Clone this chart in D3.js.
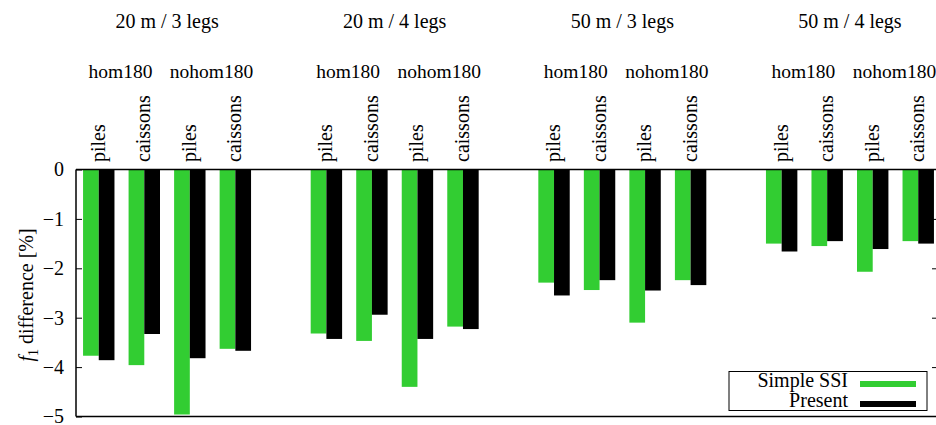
<!DOCTYPE html>
<html>
<head>
<meta charset="utf-8">
<script src="https://cdn.jsdelivr.net/npm/d3@7"></script>
<style>
  body { margin: 0; background: #fff; }
  svg text { font-family: "Liberation Serif", "DejaVu Serif", serif !important; fill: #000; }
</style>
</head>
<body>
<script>
// Chart data
const groups = ["20 m / 3 legs", "20 m / 4 legs", "50 m / 3 legs", "50 m / 4 legs"];
const variants = ["hom180", "nohom180"];
const foundations = ["piles", "caissons"];
const seriesNames = ["Simple SSI", "Present"];

// f1 difference [%], one row per group: hom180 piles, hom180 caissons, nohom180 piles, nohom180 caissons
const simpleSSI = [
  [-3.77, -3.96, -4.96, -3.63],
  [-3.32, -3.47, -4.40, -3.18],
  [-2.29, -2.44, -3.10, -2.24],
  [-1.50, -1.55, -2.07, -1.45]
];
const present = [
  [-3.86, -3.33, -3.82, -3.67],
  [-3.43, -2.94, -3.43, -3.23],
  [-2.55, -2.24, -2.45, -2.34],
  [-1.66, -1.45, -1.61, -1.50]
];
const yTicks = [0, -1, -2, -3, -4, -5];

// SVG area
const svgWidth = 936;
const svgHeight = 425;
const colors = ["#32cd32", "#000000"];
const serif = "Liberation Serif";

const svg = d3.select("body")
  .append("svg")
  .attr("width", svgWidth)
  .attr("height", svgHeight)
  .attr("font-family", serif);

// Slots: 4 bar pairs per group, one empty slot between groups
const slotsPerGroup = 5;
const nSlots = groups.length * slotsPerGroup - 1;
const x = d3.scaleLinear().domain([-0.5, nSlots - 0.5]).range([76, 941]);
const y = d3.scaleLinear().domain([0, -5]).range([169.5, 416.5]);
const barW = 0.345; // in slot units

// flatten data into bar records
const bars = [];
groups.forEach((g, gi) => {
  for (let k = 0; k < 4; k++) {
    const slot = gi * slotsPerGroup + k;
    bars.push({slot: slot, s: 0, v: simpleSSI[gi][k]});
    bars.push({slot: slot, s: 1, v: present[gi][k]});
  }
});

// Bars
svg.append("g").selectAll("rect")
  .data(bars)
  .enter()
  .append("rect")
  .attr("x", d => d.s === 0 ? x(d.slot - barW) : x(d.slot))
  .attr("y", y(0))
  .attr("width", x(barW) - x(0))
  .attr("height", d => y(d.v) - y(0))
  .attr("fill", d => colors[d.s]);

// Frame
const frame = svg.append("g").attr("fill", "none").attr("stroke", "#000");
frame.append("line").attr("x1", x(-0.5)).attr("x2", 941).attr("y1", y(0)).attr("y2", y(0)).attr("stroke-width", 1.5);
frame.append("line").attr("x1", x(-0.5)).attr("x2", 941).attr("y1", y(-5)).attr("y2", y(-5)).attr("stroke-width", 1.5);
frame.append("line").attr("x1", x(-0.5)).attr("x2", x(-0.5)).attr("y1", y(0)).attr("y2", y(-5)).attr("stroke-width", 1.5);

// Y axis (ticks pointing inward), mirrored on the right
const yAxis = d3.axisLeft(y).tickValues(yTicks).tickSize(-6).tickPadding(12)
  .tickFormat(d => d === 0 ? "0" : "\u2212" + Math.abs(d));
const yg = svg.append("g").attr("transform", `translate(${x(-0.5)},0)`).call(yAxis)
  .attr("font-family", serif).attr("font-size", 20);
yg.select(".domain").remove();
yg.selectAll("text").attr("font-size", 20).attr("font-family", serif);
yg.selectAll("line").attr("stroke", "#000");

const yRight = d3.axisRight(y).tickValues(yTicks.slice(1, 5)).tickSize(-6).tickFormat("");
const yr = svg.append("g").attr("transform", "translate(938,0)").call(yRight);
yr.select(".domain").remove();

// Y axis title
const yLabel = svg.append("text")
  .attr("transform", `translate(33,${(y(0) + y(-5)) / 2 + 2}) rotate(-90)`)
  .attr("text-anchor", "middle")
  .attr("font-size", 20);
yLabel.append("tspan").attr("font-style", "italic").text("f");
yLabel.append("tspan").attr("font-size", 14).attr("dy", 5).text("1");
yLabel.append("tspan").attr("dy", -5).text(" difference [%]");

// Group titles
svg.append("g").selectAll("text")
  .data(groups)
  .enter()
  .append("text")
  .attr("x", (d, i) => x(i * slotsPerGroup + 1.5))
  .attr("y", 28)
  .attr("text-anchor", "middle")
  .attr("font-size", 20)
  .text(d => d);

// Variant labels
const varLabels = [];
groups.forEach((g, gi) => variants.forEach((v, vi) => varLabels.push({slot: gi * slotsPerGroup + vi * 2 + 0.5, t: v})));
svg.append("g").selectAll("text")
  .data(varLabels)
  .enter()
  .append("text")
  .attr("x", d => x(d.slot) - 1)
  .attr("y", 78)
  .attr("text-anchor", "middle")
  .attr("font-size", 19.5)
  .text(d => d.t);

// Rotated foundation labels
const fLabels = [];
groups.forEach((g, gi) => {
  for (let k = 0; k < 4; k++) fLabels.push({slot: gi * slotsPerGroup + k, t: foundations[k % 2]});
});
svg.append("g").selectAll("text")
  .data(fLabels)
  .enter()
  .append("text")
  .attr("transform", d => `translate(${x(d.slot) + 6},162) rotate(-90)`)
  .attr("text-anchor", "start")
  .attr("font-size", 20)
  .text(d => d.t);

// Legend
const legend = svg.append("g");
legend.append("rect")
  .attr("x", 729).attr("y", 371.5).attr("width", 198).attr("height", 39)
  .attr("fill", "#fff").attr("stroke", "#000");
seriesNames.forEach((n, i) => {
  legend.append("text")
    .attr("x", 848).attr("y", 387 + i * 20)
    .attr("text-anchor", "end")
    .attr("font-size", 20)
    .text(n);
  legend.append("rect")
    .attr("x", 860).attr("y", 381 + i * 20).attr("width", 56).attr("height", 6)
    .attr("fill", colors[i]);
});
</script>
</body>
</html>
